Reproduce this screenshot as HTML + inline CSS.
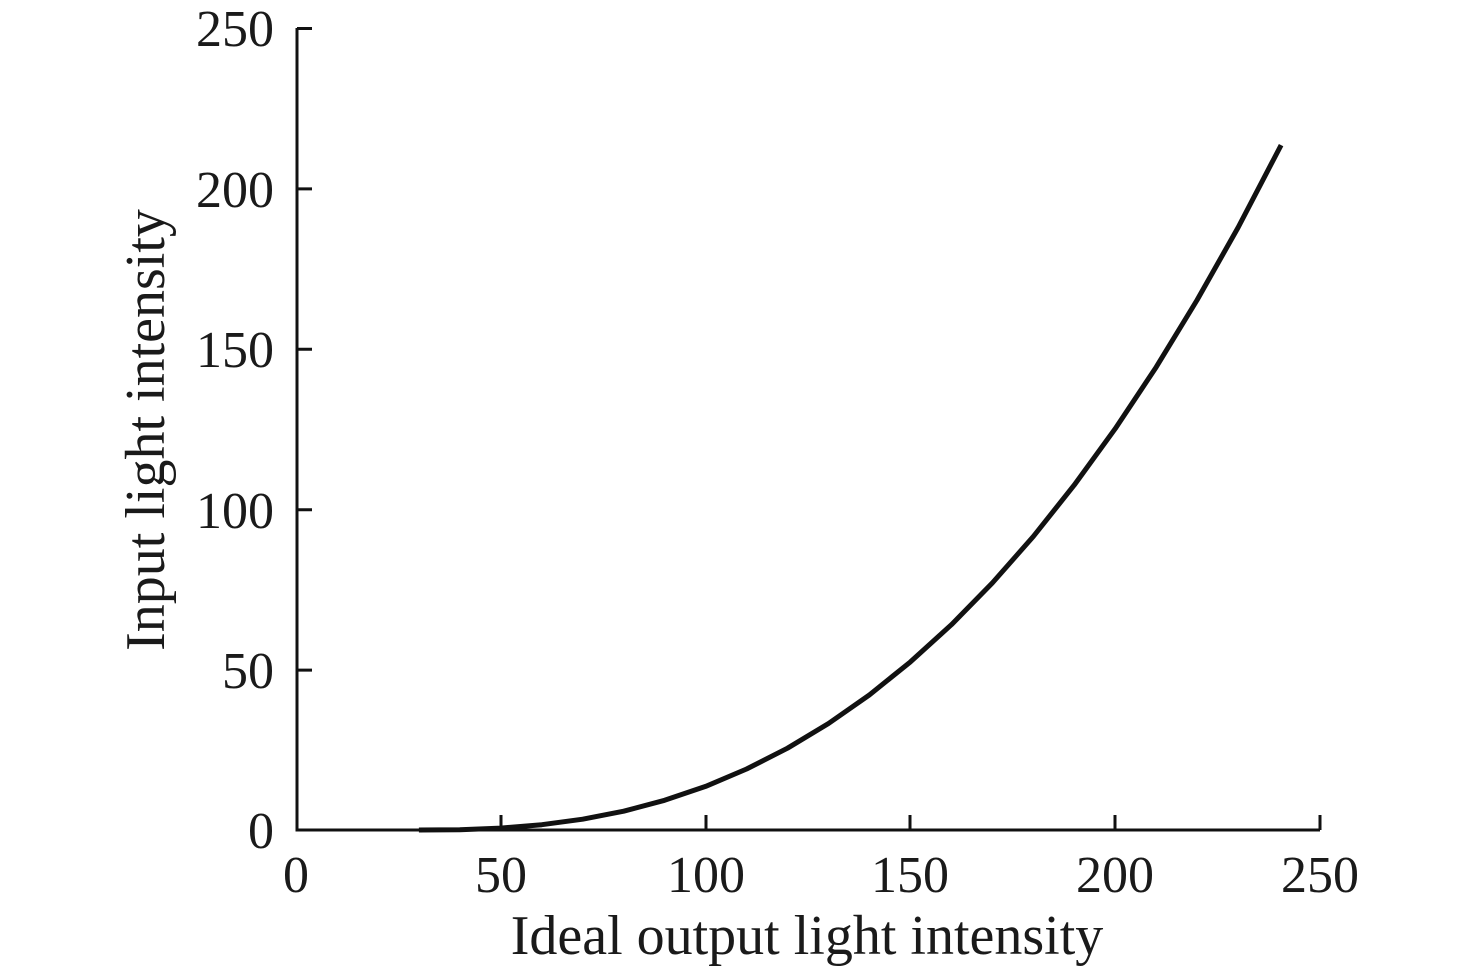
<!DOCTYPE html>
<html><head><meta charset="utf-8"><style>html,body{margin:0;padding:0;background:#fff}</style></head>
<body>
<svg width="1476" height="970" viewBox="0 0 1476 970" xmlns="http://www.w3.org/2000/svg" font-family="Liberation Serif, serif" fill="#1a1a1a">
<g stroke="#111" stroke-width="3" fill="none">
<path d="M297 28 V830 H1320"/>
<path d="M297 28.5 H312 M297 188.9 H312 M297 349.3 H312 M297 509.7 H312 M297 670.1 H312"/>
<path d="M501 830 V815 M706 830 V815 M910 830 V815 M1115 830 V815 M1320 830 V815"/>
</g>
<polyline points="418.9,830 459.8,829.7 500.8,828.1 541.8,824.7 582.7,819.2 623.7,811.2 664.6,800.3 705.6,786.4 746.6,769.0 787.5,748.2 828.5,723.5 869.4,694.9 910.4,661.9 951.4,624.7 992.3,583.0 1033.3,536.5 1074.2,485.1 1115.2,428.7 1156.2,367.1 1197.1,300.0 1238.1,227.5 1281.1,145.1" stroke="#111" stroke-width="5" fill="none" stroke-linejoin="round"/>
<g font-size="52" text-anchor="end">
<text x="274" y="46">250</text>
<text x="274" y="207">200</text>
<text x="274" y="367">150</text>
<text x="274" y="528">100</text>
<text x="274" y="688">50</text>
<text x="274" y="848">0</text>
</g>
<g font-size="52" text-anchor="middle">
<text x="296" y="892">0</text>
<text x="501" y="892">50</text>
<text x="706" y="892">100</text>
<text x="910" y="892">150</text>
<text x="1115" y="892">200</text>
<text x="1320" y="892">250</text>
</g>
<text x="807" y="954" font-size="56" text-anchor="middle">Ideal output light intensity</text>
<text transform="translate(164,430) rotate(-90)" font-size="56" text-anchor="middle">Input light intensity</text>
</svg>
</body></html>
